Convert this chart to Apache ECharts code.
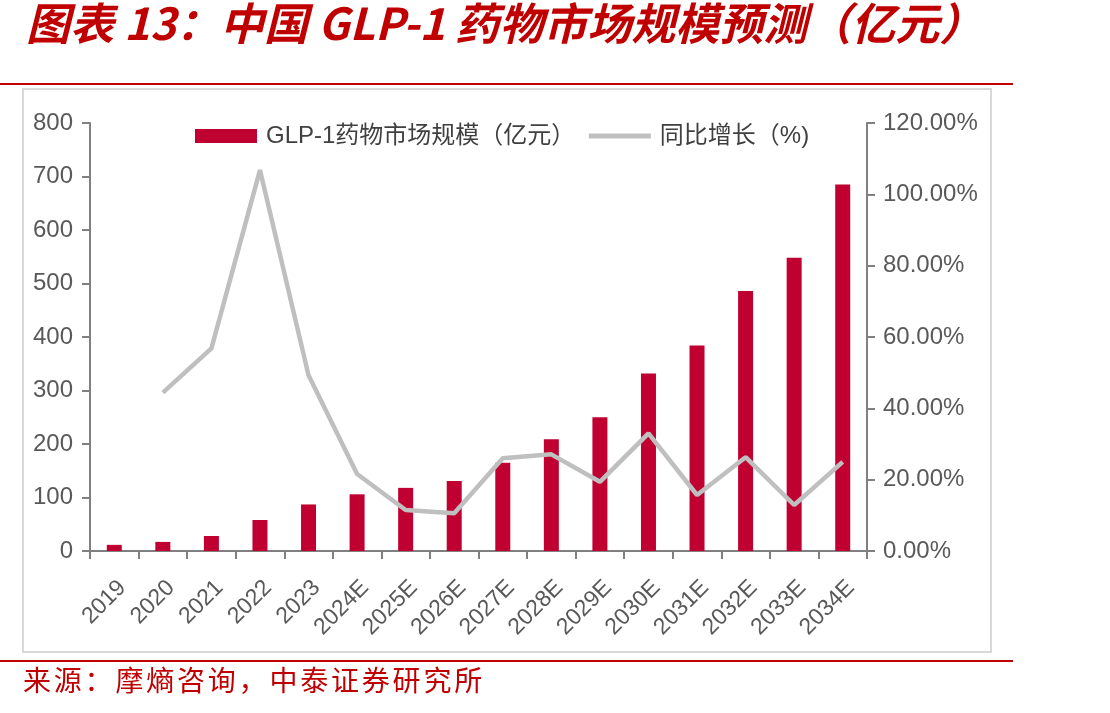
<!DOCTYPE html>
<html>
<head>
<meta charset="utf-8">
<script src="https://cdn.jsdelivr.net/npm/echarts@6/dist/echarts.min.js"></script>
<style>
  html, body { margin: 0; padding: 0; background: #fff; }
  #chart { width: 1110px; height: 713px; }
</style>
</head>
<body>
<div id="chart"></div>
<script>
// 数据
var years = ['2019', '2020', '2021', '2022', '2023', '2024E', '2025E', '2026E',
  '2027E', '2028E', '2029E', '2030E', '2031E', '2032E', '2033E', '2034E'];
var marketSize = [11.5, 17, 28, 58, 87, 106, 118, 131, 165, 209, 250, 332, 384, 486, 548, 685];
var growthPct = [null, 44.4, 56.8, 106.8, 49.3, 21.6, 11.5, 10.6, 26.0, 27.1, 19.4, 33.0, 15.7, 26.3, 12.9, 25.0];

var titleText = '图表 13：中国 GLP-1 药物市场规模预测（亿元）';
var sourceText = '来源：摩熵咨询，中泰证券研究所';

var chart = echarts.init(document.getElementById('chart'));

// 来源文字逐字排开
var sourceChars = [];
for (var i = 0; i < sourceText.length; i++) {
  sourceChars.push({
    type: 'text', left: 23 + i * 30.8, top: 666,
    style: { text: sourceText[i], fill: '#C00000', font: '28px "Noto Sans CJK SC"' }
  });
}

var option = {
  backgroundColor: '#fff',
  animation: false,
  textStyle: { fontFamily: '"Liberation Sans", "Noto Sans CJK SC", sans-serif' },
  graphic: [
    { type: 'text', left: 26, top: 1,
      style: { text: titleText, fill: '#C00000',
        font: 'italic bold 44px "Noto Sans CJK SC"' } },
    { type: 'line', shape: { x1: 0, y1: 84, x2: 1013, y2: 84 },
      style: { stroke: '#C00000', lineWidth: 2 } },
    { type: 'rect', shape: { x: 23, y: 89, width: 968, height: 563 },
      style: { fill: 'none', stroke: '#D9D9D9', lineWidth: 2 } },
    { type: 'line', shape: { x1: 0, y1: 661, x2: 1013, y2: 661 },
      style: { stroke: '#C00000', lineWidth: 2 } }
  ].concat(sourceChars),
  legend: {
    left: 190, top: 119,
    itemWidth: 62, itemHeight: 14, itemGap: 11,
    textStyle: { fontSize: 24, color: '#404040', padding: [0, 0, 0, 4] },
    data: [
      { name: 'GLP-1药物市场规模（亿元）', icon: 'rect' },
      { name: '同比增长（%)', itemStyle: { opacity: 0 },
        lineStyle: { color: '#BFBFBF', width: 5, opacity: 1 } }
    ]
  },
  grid: { left: 90, right: 243, top: 123, bottom: 162 },
  xAxis: {
    type: 'category',
    data: years,
    axisLine: { lineStyle: { color: '#808080', width: 2 } },
    axisTick: { show: true, length: 8, lineStyle: { color: '#808080', width: 2 } },
    axisLabel: { rotate: 45, interval: 0, fontSize: 23, color: '#595959',
      margin: 25, verticalAlign: 'top' }
  },
  yAxis: [
    {
      type: 'value', min: 0, max: 800, interval: 100,
      axisLine: { show: true, lineStyle: { color: '#808080', width: 2 } },
      axisTick: { show: true, length: 8, lineStyle: { color: '#808080', width: 2 } },
      splitLine: { show: false },
      axisLabel: { fontSize: 24, color: '#595959', margin: 17 }
    },
    {
      type: 'value', min: 0, max: 120, interval: 20,
      axisLine: { show: true, lineStyle: { color: '#808080', width: 2 } },
      axisTick: { show: true, length: 8, lineStyle: { color: '#808080', width: 2 } },
      splitLine: { show: false },
      axisLabel: { fontSize: 24, color: '#595959', margin: 16,
        formatter: function (v) { return v.toFixed(2) + '%'; } }
    }
  ],
  series: [
    {
      name: 'GLP-1药物市场规模（亿元）',
      type: 'bar',
      data: marketSize,
      barWidth: 15,
      itemStyle: { color: '#C00030' }
    },
    {
      name: '同比增长（%)',
      type: 'line',
      yAxisIndex: 1,
      data: growthPct,
      symbol: 'none',
      lineStyle: { color: '#BFBFBF', width: 4.5 },
      itemStyle: { color: '#BFBFBF' }
    }
  ]
};
chart.setOption(option);
</script>
</body>
</html>
